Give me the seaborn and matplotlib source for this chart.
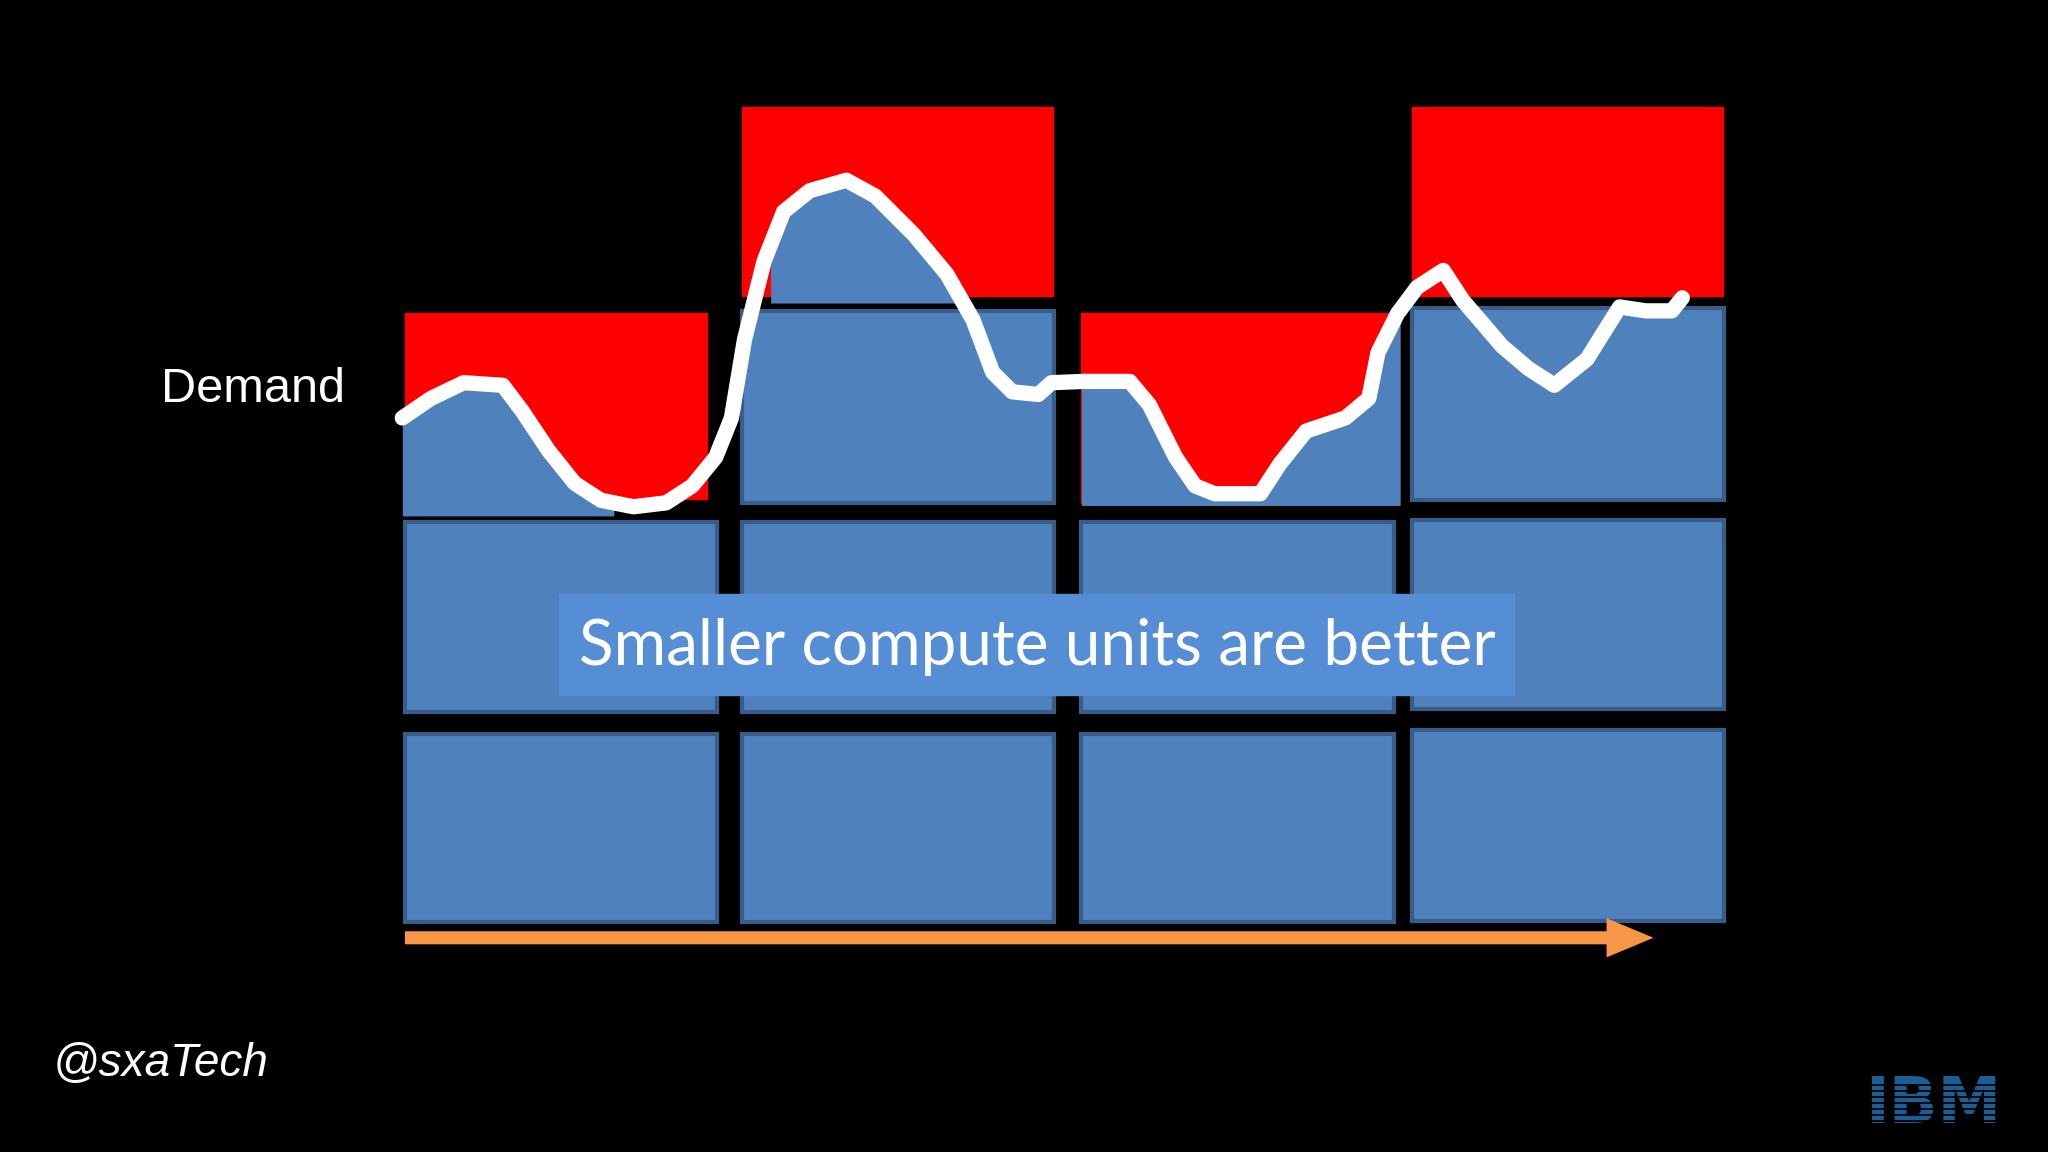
import matplotlib
matplotlib.use("Agg")
import matplotlib.pyplot as plt
import seaborn as sns
import numpy as np
from matplotlib.patches import Rectangle, FancyArrow

sns.set_theme(style="dark")
plt.rcParams['font.family'] = ['Liberation Sans', 'DejaVu Sans']

# Layout data (reference pixel space 1568 x 882)
col_lefts = [310, 568, 828, 1081]
col_width = 239
blue_rows = {0: [(562, 706), (400, 545)],
             1: [(562, 706), (400, 545), (238, 385)],
             2: [(562, 706), (400, 545)],
             3: [(559, 705), (398, 543), (236, 383)]}
red_tops = [(240, 382), (82, 227), (240, 385), (82, 227)]
red_widths = [231, 238, 239, 238]

curve_x = [308, 330, 355, 385, 400, 420, 440, 460, 485, 510, 530, 548, 560, 570, 585, 600, 620, 648,
           670, 700, 725, 745, 760, 775, 795, 805, 830, 865, 880, 900, 915, 930, 965, 980, 1000, 1030,
           1048, 1055, 1070, 1085, 1105, 1120, 1150, 1170, 1190, 1215, 1240, 1260, 1280, 1288]
curve_y = [320, 305, 293, 295, 315, 345, 370, 383, 388, 385, 372, 350, 320, 260, 200, 162, 146, 138,
           150, 180, 210, 245, 285, 300, 302, 293, 292, 292, 310, 350, 372, 378, 378, 355, 330, 320,
           305, 270, 240, 220, 207, 230, 265, 282, 295, 275, 235, 238, 238, 228]

BLUE = "#4F81BD"
EDGE = "#385D8A"
RED = "#FF0000"

fig = plt.figure(figsize=(20.48, 11.52), dpi=100, facecolor="black")
ax = fig.add_axes([0, 0, 1, 1])
ax.set_facecolor("black")
ax.set_xlim(0, 1568)
ax.set_ylim(882, 0)
ax.axis("off")

for i, (t, b) in enumerate(red_tops):
    ax.add_patch(Rectangle((col_lefts[i], t), red_widths[i], b - t, color=RED, zorder=1))

for i, rows in blue_rows.items():
    for (t, b) in rows:
        ax.add_patch(Rectangle((col_lefts[i], t), col_width, b - t, facecolor=BLUE,
                               edgecolor=EDGE, linewidth=3, zorder=2))

cx = np.array(curve_x, float); cy = np.array(curve_y, float)
def fill(x0, x1, base):
    xs = np.linspace(x0, x1, 200)
    ys = np.interp(xs, cx, cy)
    ax.fill_between(xs, ys, base, where=ys < base, color=BLUE, zorder=2, linewidth=0)
fill(308, 470, 395)
fill(828, 1072, 387)
fill(590, 745, 232)

ax.plot(cx, cy, color="white", lw=11, solid_capstyle="round", solid_joinstyle="round", zorder=4)

ax.add_patch(Rectangle((428, 455), 731, 77, color="#558ED5", zorder=5))
ax.text(794, 495, "Smaller compute units are better", color="white", fontsize=46,
        family=["Lato", "DejaVu Sans"], ha="center", va="center", zorder=6)

ax.add_patch(FancyArrow(310, 718, 920, 0, width=10, head_width=30, head_length=36,
                        length_includes_head=False, color="#F79646", zorder=3, linewidth=0))

ax.text(264, 298, "Demand", color="white", fontsize=35, ha="right", va="center")
ax.text(40, 815, "@sxaTech", color="white", fontsize=33, style="italic", ha="left", va="center")

ax.text(1480, 846, "IBM", color="#1A5E96", fontsize=46, fontweight="bold",
        family=["DejaVu Sans"], ha="center", va="center", zorder=6)
for yy in np.arange(831, 863, 4.5):
    ax.axhline(yy, xmin=1420/1568, xmax=1540/1568, color="black", lw=1.3, zorder=7)

fig.savefig("out.png", dpi=100, facecolor="black")
